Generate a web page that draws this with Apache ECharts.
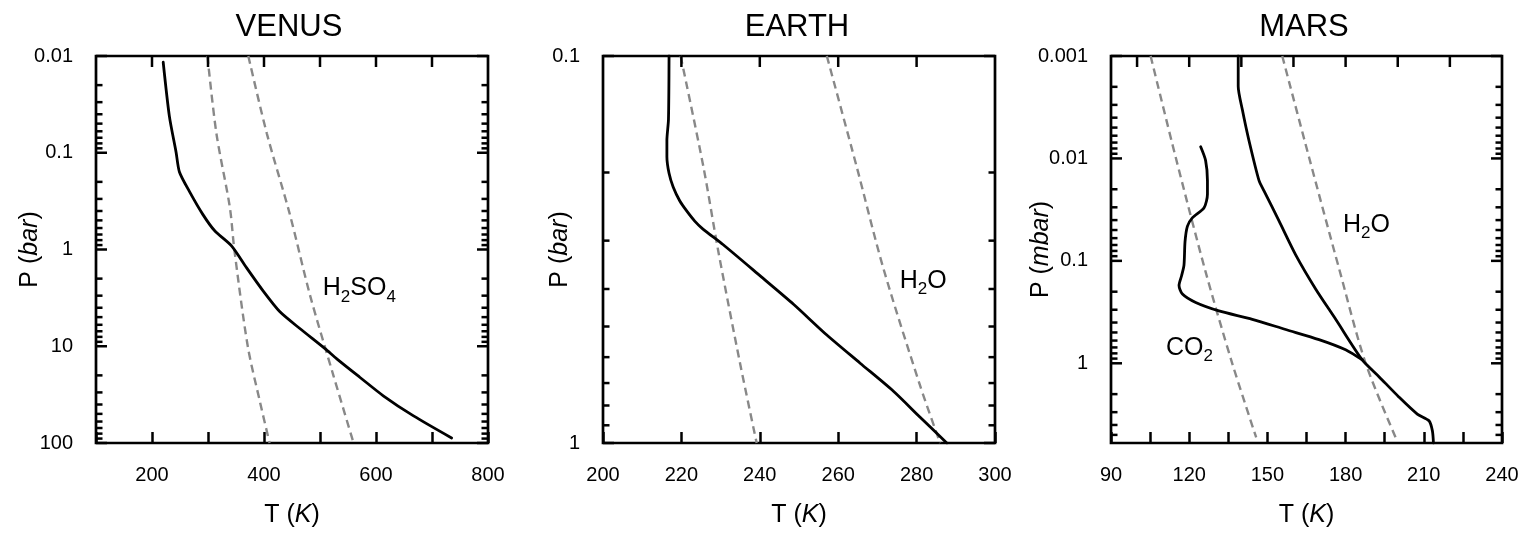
<!DOCTYPE html>
<html><head><meta charset="utf-8">
<script src="https://cdn.jsdelivr.net/npm/echarts@6/dist/echarts.min.js"></script>
<style>html,body{margin:0;padding:0;background:#fff}#c{width:1530px;height:533px}</style>
</head><body><div id="c"></div>
<script>
const FONT = '"Liberation Sans", Arial, Helvetica, sans-serif';

// ---------- titles / units ----------
const panelTitles = ['VENUS', 'EARTH', 'MARS'];
const yUnits = ['bar', 'bar', 'mbar'];
const xUnit = 'K';

// ---------- VENUS ----------
const venusProfile = [[220,0.0116],[231,0.0418],[243,0.0986],[249,0.158],[267,0.252],[291,0.436],[312,0.641],[342,0.918],[369,1.55],[399,2.71],[428,4.38],[464,6.56],[509,10.6],[530,13.5],[571,20.9],[613,32.5],[667,52.5],[735,88.7]];
const venusSatLow = [[299,0.01],[315,0.063],[339,0.366],[347,1],[371,10],[393,38],[410,100]];
const venusSatH2SO4 = [[372,0.01],[405,0.063],[446,0.43],[482,2.94],[524,20.1],[560,100]];
const venusXRange = [100, 800];
const venusXInterval = 100;
const venusXLabels = [200, 400, 600, 800];
const venusTopTicks = [200, 300, 400, 500, 600, 700];
const venusYRange = [0.01, 100];
const venusYLabels = ['0.01', '0.1', '1', '10', '100'];
const venusTag = {text: '{m|H}{s|2}{m|SO}{s|4}', at: [505, 2.53]};

// ---------- EARTH ----------
const earthProfile = [[216.85,0.1],[216.7,0.146],[216.3,0.165],[216.3,0.182],[216.85,0.201],[217.9,0.218],[219.6,0.237],[221.3,0.251],[223.4,0.267],[225.5,0.28],[230.6,0.307],[240.1,0.37],[248.6,0.438],[257.1,0.526],[265.6,0.622],[274.1,0.735],[280.9,0.858],[287.7,1]];
const earthSatLow = [[219.8,0.1],[225.6,0.193],[229.4,0.319],[234.9,0.618],[239.2,1]];
const earthSatH2O = [[257.1,0.1],[264.7,0.193],[271.5,0.353],[280.9,0.711],[286,1]];
const earthXRange = [200, 300];
const earthXInterval = 20;
const earthXLabels = [200, 220, 240, 260, 280, 300];
const earthTopTicks = [220, 240, 260, 280];
const earthYRange = [0.1, 1];
const earthYLabels = ['0.1', '1'];
const earthTag = {text: '{m|H}{s|2}{m|O}', at: [275.7, 0.382]};

// ---------- MARS ----------
const marsProfileWarm = [[138.8,0.001],[138.8,0.00197],[140.4,0.00335],[142.9,0.00664],[146.8,0.0165],[148.7,0.0207],[154.5,0.041],[160.9,0.0879],[168.5,0.188],[176.2,0.372],[186.4,0.927],[192.8,1.35],[200.5,2.14],[207.5,3.13],[212,3.64],[213.3,4.57],[213.7,6]];
const marsProfileCold = [[124.4,0.0077],[126.3,0.0105],[127,0.0165],[127,0.0224],[125.7,0.0303],[121.2,0.038],[119.3,0.046],[118.4,0.0648],[118,0.11],[117.1,0.139],[116.1,0.174],[117.4,0.211],[122.5,0.255],[131.4,0.308],[144.2,0.372],[157,0.468],[169.8,0.587],[180,0.738],[186.4,0.927]];
const marsSatCO2 = [[105.2,0.001],[114.8,0.0097],[126.3,0.128],[136.5,1],[145.7,5.3]];
const marsSatH2O = [[155.7,0.001],[166,0.0098],[177.5,0.119],[187.7,1],[199.8,5.75]];
const marsXRange = [90, 240];
const marsXInterval = 15;
const marsXLabels = [90, 120, 150, 180, 210, 240];
const marsTopTicks = [100, 120, 140, 160, 180, 200, 220];
const marsYRange = [0.001, 6];
const marsYLabels = ['0.001', '0.01', '0.1', '1'];
const marsTags = [
  {text: '{m|H}{s|2}{m|O}', at: [179, 0.0444]},
  {text: '{m|CO}{s|2}', at: [111.1, 0.711]}
];

// ---------- layout ----------
const grids = [
  {left: 96, top: 56, width: 392, height: 392},
  {left: 603, top: 56, width: 392, height: 392},
  {left: 1111, top: 56, width: 391, height: 392}
];
const titleX = [289, 797, 1304];
const yNameGap = [53, 30, 57];

const panels = [
  {xr: venusXRange, xi: venusXInterval, xl: venusXLabels, top: venusTopTicks, yr: venusYRange, yl: venusYLabels,
   solid: [venusProfile], dashed: [venusSatLow, venusSatH2SO4], tags: [venusTag]},
  {xr: earthXRange, xi: earthXInterval, xl: earthXLabels, top: earthTopTicks, yr: earthYRange, yl: earthYLabels,
   solid: [earthProfile], dashed: [earthSatLow, earthSatH2O], tags: [earthTag]},
  {xr: marsXRange, xi: marsXInterval, xl: marsXLabels, top: marsTopTicks, yr: marsYRange, yl: marsYLabels,
   solid: [marsProfileWarm, marsProfileCold], dashed: [marsSatCO2, marsSatH2O], tags: marsTags}
];

const TICK_W = 2.5, MAJ = 11, MIN = 6.5;

const option = {
  animation: false,
  backgroundColor: '#fff',
  textStyle: {fontFamily: FONT},
  grid: [], xAxis: [], yAxis: [], series: [], graphic: []
};

panels.forEach((p, gi) => {
  option.grid.push(Object.assign({show: true, borderColor: '#000', borderWidth: 2.7, backgroundColor: 'transparent'}, grids[gi]));
  option.xAxis.push({
    type: 'value', gridIndex: gi, min: p.xr[0], max: p.xr[1], interval: p.xi,
    axisLine: {show: false}, splitLine: {show: false},
    axisTick: {show: true, inside: true, length: MAJ, lineStyle: {color: '#000', width: TICK_W}},
    axisLabel: {fontSize: 20, color: '#000', fontFamily: FONT, margin: 22,
      formatter: v => (p.xl.indexOf(Math.round(v)) >= 0 ? String(Math.round(v)) : '')},
    name: '{n|T (}{i|' + xUnit + '}{n|)}', nameLocation: 'middle', nameGap: 60, nameMoveOverlap: false,
    nameTextStyle: {color: '#000', rich: {
      n: {fontSize: 25, fontFamily: FONT, color: '#000'},
      i: {fontSize: 25, fontFamily: FONT, color: '#000', fontStyle: 'italic'}}}
  });
  const e0 = Math.round(Math.log10(p.yr[0]));
  option.yAxis.push({
    type: 'log', logBase: 10, gridIndex: gi, min: p.yr[0], max: p.yr[1], inverse: true,
    axisLine: {show: false}, splitLine: {show: false}, axisTick: {show: false}, minorTick: {show: false},
    axisLabel: {fontSize: 20, color: '#000', fontFamily: FONT, margin: 23, showMaxLabel: p.yr[1] === Math.pow(10, Math.round(Math.log10(p.yr[1]))),
      formatter: v => {
        const lg = Math.log10(v), e = Math.round(lg);
        if (Math.abs(lg - e) > 1e-6) return '';
        return p.yl[e - e0] || '';
      }},
    name: '{n|P (}{i|' + yUnits[gi] + '}{n|)}', nameLocation: 'middle', nameGap: yNameGap[gi], nameRotate: 90, nameMoveOverlap: false,
    nameTextStyle: {color: '#000', rich: {
      n: {fontSize: 25, fontFamily: FONT, color: '#000'},
      i: {fontSize: 25, fontFamily: FONT, color: '#000', fontStyle: 'italic'}}}
  });

  p.dashed.forEach(d => option.series.push({
    type: 'line', xAxisIndex: gi, yAxisIndex: gi, data: d, showSymbol: false, symbol: 'none', z: 3, smooth: 0.3,
    lineStyle: {color: '#888', width: 2.4, type: [8, 5]}, silent: true
  }));
  p.solid.forEach(d => option.series.push({
    type: 'line', xAxisIndex: gi, yAxisIndex: gi, data: d, showSymbol: false, symbol: 'none', z: 4, smooth: 0.25,
    lineStyle: {color: '#000', width: 2.8, join: 'round', cap: 'round'}, silent: true
  }));

  // frame ticks (log minor/major on both sides, top ticks)
  const tickData = [];
  for (let e = e0; Math.pow(10, e) <= p.yr[1] * 1.0001; e++) {
    const d = Math.pow(10, e);
    tickData.push([p.xr[0], d, 0]);
    for (let m = 2; m <= 9; m++) { const v = m * d; if (v < p.yr[1] * 0.999) tickData.push([p.xr[0], v, 1]); }
  }
  p.top.forEach(t => tickData.push([t, p.yr[0], 2]));
  option.series.push({
    type: 'custom', xAxisIndex: gi, yAxisIndex: gi, data: tickData, silent: true, z: 6,
    dimensions: ['x', 'y', 'k'], encode: {x: 0, y: 1},
    renderItem: (params, api) => {
      const cs = params.coordSys;
      const k = api.value(2);
      const pt = api.coord([api.value(0), api.value(1)]);
      const st = {stroke: '#000', lineWidth: TICK_W};
      if (k === 2) return {type: 'line', shape: {x1: pt[0], y1: cs.y, x2: pt[0], y2: cs.y + MAJ}, style: st};
      const L = k === 0 ? MAJ : MIN;
      return {type: 'group', children: [
        {type: 'line', shape: {x1: cs.x, y1: pt[1], x2: cs.x + L, y2: pt[1]}, style: st},
        {type: 'line', shape: {x1: cs.x + cs.width, y1: pt[1], x2: cs.x + cs.width - L, y2: pt[1]}, style: st}
      ]};
    }
  });

  // species labels
  p.tags.forEach(t => option.series.push({
    type: 'scatter', xAxisIndex: gi, yAxisIndex: gi, data: [t.at], symbolSize: 0, silent: true, z: 7,
    itemStyle: {color: '#000', opacity: 0},
    label: {show: true, position: 'right', distance: 0, formatter: t.text, color: '#000', opacity: 1,
      rich: {
        m: {fontSize: 25, fontFamily: FONT, color: '#000', lineHeight: 34},
        s: {fontSize: 17, fontFamily: FONT, color: '#000', verticalAlign: 'bottom'}
      }}
  }));

  option.graphic.push({type: 'text', x: titleX[gi], y: 27, silent: true,
    style: {text: panelTitles[gi], fontSize: 31, fontFamily: FONT, fill: '#000',
      align: 'center', verticalAlign: 'middle', textAlign: 'center', textVerticalAlign: 'middle'}});
});

const chart = echarts.init(document.getElementById('c'), null, {renderer: 'canvas'});
chart.setOption(option);
</script>
</body></html>
